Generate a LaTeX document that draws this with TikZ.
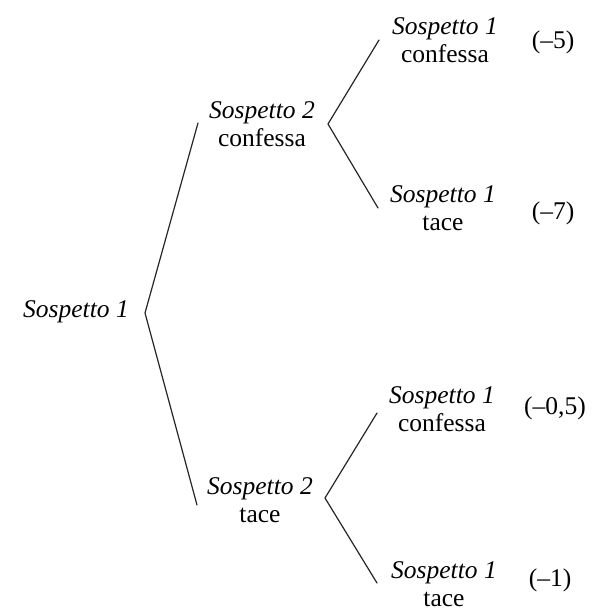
\documentclass[tikz,border=0pt]{standalone}
\usepackage{fontspec}
\setmainfont{Liberation Serif}
\begin{document}
\begin{tikzpicture}[x=1pt,y=-1pt,
  lbl/.style={inner sep=0pt,align=center,font=\fontsize{25.5}{28}\selectfont},
  pay/.style={inner sep=0pt,font=\fontsize{25.5}{28}\selectfont},
  branch/.style={line width=1.2pt,draw=black!85,line cap=round,line join=miter}]
\useasboundingbox (0,0) rectangle (597,613);

% decision nodes
\node[lbl] (root) at (76,312) {\textit{Sospetto 1}};
\node[lbl] (s2c) at (262,124) {\textit{Sospetto 2}\\confessa};
\node[lbl] (s2t) at (260,500) {\textit{Sospetto 2}\\tace};

% outcomes
\node[lbl] (cc) at (445,40)  {\textit{Sospetto 1}\\confessa};
\node[lbl] (ct) at (443,208) {\textit{Sospetto 1}\\tace};
\node[lbl] (tc) at (442,409) {\textit{Sospetto 1}\\confessa};
\node[lbl] (tt) at (444,584) {\textit{Sospetto 1}\\tace};

% payoffs
\node[pay] (pcc) at (553,42)  {(–5)};
\node[pay] (pct) at (553,213) {(–7)};
\node[pay] (ptc) at (555,408) {(–0,5)};
\node[pay] (ptt) at (550,580) {(–1)};

% branch points and branch ends
\coordinate (v0) at (145,313);
\coordinate (v0a) at (198,123);
\coordinate (v0b) at (197,505);
\coordinate (v1) at (328,124);
\coordinate (v1a) at (379,40);
\coordinate (v1b) at (378,208);
\coordinate (v2) at (325,498);
\coordinate (v2a) at (377,413);
\coordinate (v2b) at (377,583);

\draw[branch] (v0a) -- (v0) -- (v0b);
\draw[branch] (v1a) -- (v1) -- (v1b);
\draw[branch] (v2a) -- (v2) -- (v2b);
\end{tikzpicture}
\end{document}
